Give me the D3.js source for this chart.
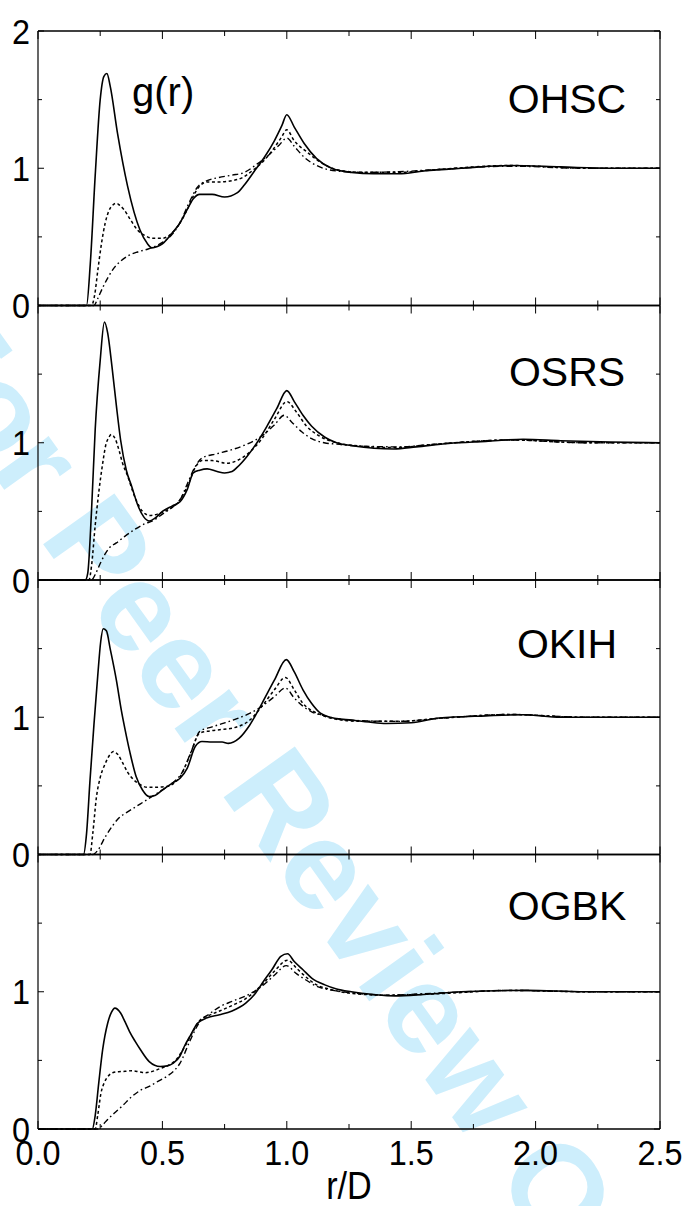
<!DOCTYPE html>
<html><head><meta charset="utf-8">
<script src="https://cdn.jsdelivr.net/npm/d3@7"></script>
<style>body{margin:0;background:#fff}svg{display:block}</style>
</head><body>
<script>
// ---------- data ----------
const panelNames = ["OHSC", "OSRS", "OKIH", "OGBK"];
const xTickLabels = ["0.0", "0.5", "1.0", "1.5", "2.0", "2.5"];
const yTickValues = [0, 1, 2];

// OHSC
const ohscSolidR = [0,0.195,0.21,0.23,0.25,0.265,0.277,0.29,0.32,0.36,0.41,0.44,0.457,0.48,0.5,0.54,0.57,0.6,0.625,0.65,0.7,0.75,0.8,0.83,0.87,0.91,0.95,0.98,1.0,1.03,1.07,1.12,1.18,1.26,1.35,1.45,1.55,1.7,1.9,2.1,2.3,2.5];
const ohscSolidG = [0,0,0.3,0.95,1.5,1.67,1.69,1.6,1.25,0.87,0.55,0.45,0.42,0.43,0.45,0.53,0.6,0.7,0.78,0.81,0.81,0.79,0.82,0.88,0.98,1.08,1.2,1.31,1.39,1.3,1.18,1.07,1.0,0.97,0.96,0.96,0.98,1.0,1.02,1.01,1.0,1.0];
const ohscDotR = [0,0.215,0.228,0.24,0.255,0.27,0.285,0.3,0.315,0.328,0.345,0.37,0.4,0.43,0.46,0.5,0.54,0.57,0.6,0.625,0.645,0.68,0.73,0.78,0.82,0.86,0.91,0.95,0.98,1.0,1.03,1.08,1.13,1.2,1.3,1.45,1.6,1.9,2.2,2.5];
const ohscDotG = [0,0,0.08,0.25,0.45,0.6,0.69,0.73,0.745,0.73,0.7,0.63,0.55,0.51,0.49,0.49,0.53,0.6,0.7,0.8,0.86,0.9,0.9,0.91,0.93,0.98,1.06,1.15,1.23,1.28,1.2,1.12,1.05,0.99,0.97,0.97,0.99,1.02,1.0,1.0];
const ohscDashDotR = [0,0.225,0.24,0.26,0.28,0.3,0.33,0.36,0.4,0.44,0.47,0.5,0.54,0.57,0.6,0.64,0.68,0.72,0.78,0.83,0.88,0.93,0.97,1.0,1.03,1.07,1.12,1.2,1.3,1.45,1.6,1.9,2.2,2.5];
const ohscDashDotG = [0,0,0.05,0.13,0.2,0.26,0.32,0.36,0.39,0.41,0.43,0.46,0.52,0.6,0.72,0.86,0.91,0.93,0.95,0.97,1.03,1.1,1.17,1.22,1.16,1.08,1.02,0.98,0.97,0.975,0.99,1.015,1.0,1.0];

// OSRS
const osrsSolidR = [0,0.19,0.2,0.215,0.23,0.25,0.267,0.28,0.297,0.315,0.332,0.355,0.377,0.4,0.425,0.447,0.47,0.5,0.54,0.571,0.6,0.624,0.65,0.68,0.72,0.75,0.78,0.8,0.84,0.88,0.92,0.96,1.0,1.03,1.065,1.1,1.153,1.2,1.26,1.35,1.43,1.52,1.65,1.8,1.95,2.1,2.3,2.5];
const osrsSolidG = [0,0,0.05,0.5,1.1,1.6,1.88,1.8,1.56,1.27,1.02,0.8,0.68,0.55,0.46,0.43,0.45,0.5,0.54,0.57,0.66,0.78,0.8,0.81,0.79,0.78,0.79,0.82,0.9,1.0,1.12,1.25,1.38,1.3,1.2,1.12,1.04,1.0,0.98,0.96,0.955,0.97,0.995,1.01,1.025,1.015,1.005,1.0];
const osrsDotR = [0,0.205,0.215,0.23,0.245,0.26,0.272,0.285,0.295,0.31,0.325,0.34,0.36,0.38,0.395,0.42,0.45,0.48,0.52,0.56,0.6,0.635,0.66,0.7,0.76,0.8,0.85,0.9,0.95,1.0,1.04,1.08,1.13,1.2,1.3,1.43,1.6,1.9,2.2,2.5];
const osrsDotG = [0,0,0.1,0.4,0.65,0.85,0.98,1.04,1.06,1.03,0.95,0.85,0.76,0.65,0.58,0.5,0.47,0.48,0.51,0.56,0.68,0.83,0.87,0.87,0.85,0.87,0.93,1.03,1.17,1.3,1.22,1.12,1.05,1.0,0.975,0.965,0.99,1.02,1.0,1.0];
const osrsDashDotR = [0,0.215,0.23,0.25,0.27,0.29,0.315,0.35,0.39,0.43,0.46,0.5,0.54,0.57,0.6,0.63,0.66,0.72,0.78,0.84,0.9,0.95,0.99,1.02,1.06,1.1,1.15,1.2,1.3,1.45,1.6,1.9,2.2,2.5];
const osrsDashDotG = [0,0,0.04,0.12,0.19,0.24,0.27,0.32,0.37,0.41,0.43,0.48,0.53,0.58,0.7,0.82,0.89,0.92,0.95,0.99,1.05,1.13,1.2,1.15,1.08,1.03,1.0,0.99,0.975,0.97,0.99,1.02,1.0,1.0];

// OKIH
const okihSolidR = [0,0.183,0.195,0.209,0.225,0.24,0.252,0.262,0.275,0.29,0.315,0.335,0.35,0.37,0.394,0.42,0.447,0.47,0.5,0.54,0.571,0.6,0.632,0.659,0.7,0.74,0.765,0.809,0.85,0.9,0.95,0.998,1.03,1.065,1.1,1.135,1.2,1.26,1.33,1.4,1.5,1.612,1.8,1.95,2.1,2.3,2.5];
const okihSolidG = [0,0,0.15,0.54,0.95,1.3,1.55,1.645,1.63,1.5,1.27,1.05,0.91,0.74,0.57,0.47,0.422,0.43,0.47,0.52,0.556,0.63,0.787,0.823,0.82,0.82,0.81,0.848,0.94,1.1,1.27,1.42,1.33,1.2,1.1,1.03,0.99,0.98,0.965,0.955,0.96,0.994,1.01,1.018,1.0,1.0,1.0];
const okihDotR = [0,0.209,0.22,0.235,0.25,0.271,0.29,0.303,0.32,0.341,0.36,0.385,0.41,0.438,0.47,0.518,0.571,0.61,0.65,0.69,0.73,0.78,0.853,0.9,0.95,0.994,1.03,1.065,1.1,1.135,1.2,1.3,1.45,1.6,1.9,2.2,2.5];
const okihDotG = [0,0,0.15,0.42,0.56,0.665,0.73,0.75,0.73,0.665,0.6,0.544,0.51,0.49,0.49,0.496,0.568,0.72,0.885,0.9,0.909,0.92,0.982,1.08,1.2,1.29,1.2,1.1,1.05,1.02,0.985,0.97,0.97,0.99,1.02,1.0,1.0];
const okihDashDotR = [0,0.22,0.24,0.271,0.3,0.324,0.36,0.394,0.43,0.456,0.5,0.54,0.58,0.62,0.65,0.7,0.747,0.8,0.853,0.9,0.95,0.994,1.03,1.065,1.1,1.153,1.2,1.3,1.45,1.6,1.9,2.2,2.5];
const okihDashDotG = [0,0,0.03,0.13,0.21,0.264,0.31,0.349,0.39,0.42,0.47,0.52,0.6,0.77,0.897,0.93,0.957,0.99,1.03,1.08,1.15,1.213,1.14,1.08,1.04,1.01,0.99,0.975,0.97,0.99,1.02,1.0,1.0];

// OGBK
const ogbkSolidR = [0,0.218,0.23,0.244,0.26,0.28,0.295,0.309,0.332,0.35,0.368,0.39,0.412,0.447,0.491,0.52,0.544,0.57,0.588,0.615,0.641,0.68,0.73,0.78,0.835,0.87,0.906,0.94,0.976,1.003,1.03,1.065,1.1,1.153,1.2,1.259,1.35,1.435,1.55,1.7,1.965,2.2,2.5];
const ogbkSolidG = [0,0,0.1,0.333,0.58,0.771,0.85,0.881,0.845,0.78,0.71,0.64,0.577,0.491,0.455,0.46,0.48,0.53,0.601,0.69,0.771,0.81,0.832,0.86,0.917,0.98,1.075,1.16,1.258,1.277,1.22,1.16,1.1,1.05,1.02,1.0,0.98,0.97,0.98,1.0,1.01,1.0,1.0];
const ogbkDotR = [0,0.23,0.24,0.253,0.267,0.28,0.3,0.324,0.35,0.377,0.41,0.43,0.46,0.49,0.52,0.553,0.59,0.62,0.65,0.69,0.73,0.78,0.835,0.9,0.95,1.003,1.04,1.082,1.12,1.17,1.25,1.4,1.6,1.9,2.2,2.5];
const ogbkDotG = [0,0,0.1,0.26,0.34,0.38,0.41,0.418,0.42,0.425,0.415,0.41,0.42,0.44,0.46,0.5,0.6,0.7,0.79,0.83,0.86,0.9,0.95,1.05,1.15,1.23,1.17,1.1,1.05,1.02,0.99,0.975,0.985,1.01,1.0,1.0];
const ogbkDashDotR = [0,0.24,0.26,0.28,0.306,0.34,0.377,0.41,0.447,0.48,0.518,0.55,0.571,0.61,0.65,0.69,0.73,0.78,0.835,0.9,0.95,0.998,1.04,1.082,1.12,1.17,1.25,1.4,1.6,1.9,2.2,2.5];
const ogbkDashDotG = [0,0,0.03,0.07,0.114,0.17,0.236,0.28,0.31,0.345,0.384,0.43,0.48,0.64,0.78,0.84,0.89,0.93,0.97,1.04,1.12,1.19,1.13,1.08,1.04,1.015,0.995,0.975,0.99,1.01,1.0,1.0];

const seriesByPanel = [
  [[ohscSolidR, ohscSolidG], [ohscDotR, ohscDotG], [ohscDashDotR, ohscDashDotG]],
  [[osrsSolidR, osrsSolidG], [osrsDotR, osrsDotG], [osrsDashDotR, osrsDashDotG]],
  [[okihSolidR, okihSolidG], [okihDotR, okihDotG], [okihDashDotR, okihDashDotG]],
  [[ogbkSolidR, ogbkSolidG], [ogbkDotR, ogbkDotG], [ogbkDashDotR, ogbkDashDotG]]
];

// ---------- layout ----------
const W = 688, H = 1206;
const left = 38, right = 660, top0 = 31, panelH = 274.5;
const labelPos = [82, 80.5, 77.5, 65.5]; // label baselines relative to panel top (px)
const lineStyles = [
  {dash: null, w: 1.6},
  {dash: "3,2.6", w: 1.5},
  {dash: "6,3,1.6,3", w: 1.4}
];
const font = "'Liberation Sans', Arial, Helvetica, sans-serif";

const svg = d3.select("body").append("svg").attr("width", W).attr("height", H);
svg.append("rect").attr("width", W).attr("height", H).attr("fill", "#fff");

// watermark
svg.append("text")
  .attr("transform", "translate(-101,342) rotate(54.5)")
  .attr("font-family", font).attr("font-weight", "bold").attr("font-size", 127)
  .attr("fill", "#cdeefc")
  .text("For Peer Review Only");

const x = d3.scaleLinear().domain([0, 2.5]).range([left, right]);

function scaledText(g, tx, ty, txt, size, anchor, baseline) {
  g.append("text")
    .attr("transform", `translate(${tx},${ty}) scale(0.9,1)`)
    .attr("font-family", font).attr("font-size", size)
    .attr("text-anchor", anchor)
    .attr("dominant-baseline", baseline || "auto")
    .attr("fill", "#000")
    .text(txt);
}

panelNames.forEach((name, i) => {
  const pt = top0 + i * panelH, pb = pt + panelH;
  const y = d3.scaleLinear().domain([0, 2]).range([pb, pt]);
  const g = svg.append("g");

  // ticks on all four sides (inward)
  const xt = d3.range(0, 2.5001, 0.25);
  xt.forEach(v => {
    const major = Math.abs(v * 2 - Math.round(v * 2)) < 1e-6;
    const len = major ? 8 : 5;
    g.append("line").attr("x1", x(v)).attr("x2", x(v)).attr("y1", pb).attr("y2", pb - len)
      .attr("stroke", "#000").attr("stroke-width", 1);
    g.append("line").attr("x1", x(v)).attr("x2", x(v)).attr("y1", pt).attr("y2", pt + len)
      .attr("stroke", "#000").attr("stroke-width", 1);
  });
  d3.range(0, 2.001, 0.5).forEach(v => {
    const major = Math.abs(v - Math.round(v)) < 1e-6;
    const len = major ? 6 : 4;
    g.append("line").attr("x1", left).attr("x2", left + len).attr("y1", y(v)).attr("y2", y(v))
      .attr("stroke", "#000").attr("stroke-width", 1);
    g.append("line").attr("x1", right).attr("x2", right - len).attr("y1", y(v)).attr("y2", y(v))
      .attr("stroke", "#000").attr("stroke-width", 1);
  });

  // curves
  const line = d3.line().x(d => x(d[0])).y(d => y(d[1])).curve(d3.curveMonotoneX);
  seriesByPanel[i].forEach((s, k) => {
    const pts = s[0].map((r, j) => [r, s[1][j]]);
    g.append("path").attr("d", line(pts))
      .attr("fill", "none").attr("stroke", "#000")
      .attr("stroke-width", lineStyles[k].w)
      .attr("stroke-dasharray", lineStyles[k].dash)
      .attr("stroke-linejoin", "round");
  });

  // frame
  g.append("line").attr("x1", left).attr("x2", left).attr("y1", pt).attr("y2", pb).attr("stroke", "#000").attr("stroke-width", 1.2);
  g.append("line").attr("x1", right).attr("x2", right).attr("y1", pt).attr("y2", pb).attr("stroke", "#000").attr("stroke-width", 1.2);
  g.append("line").attr("x1", left).attr("x2", right).attr("y1", pt).attr("y2", pt).attr("stroke", "#000").attr("stroke-width", 1.4);
  g.append("line").attr("x1", left).attr("x2", right).attr("y1", pb).attr("y2", pb).attr("stroke", "#000").attr("stroke-width", 1.6);

  // y labels
  yTickValues.forEach(v => {
    if (v === 2 && i > 0) return;
    scaledText(svg, 30, y(v) + 12.5, String(v), 36, "end");
  });

  // panel name
  g.append("text").attr("x", 567).attr("y", pt + labelPos[i])
    .attr("font-family", font).attr("font-size", 41).attr("text-anchor", "middle")
    .attr("fill", "#000").text(name);

  if (i === 0) {
    g.append("text").attr("x", 132).attr("y", pt + 75)
      .attr("font-family", font).attr("font-size", 40).attr("fill", "#000").text("g(r)");
  }
});

// x tick labels
const yb = top0 + 4 * panelH;
xTickLabels.forEach(t => {
  scaledText(svg, x(+t), yb + 36, t, 36, "middle");
});
scaledText(svg, (left + right) / 2, yb + 70, "r/D", 38, "middle");
</script>
</body></html>
